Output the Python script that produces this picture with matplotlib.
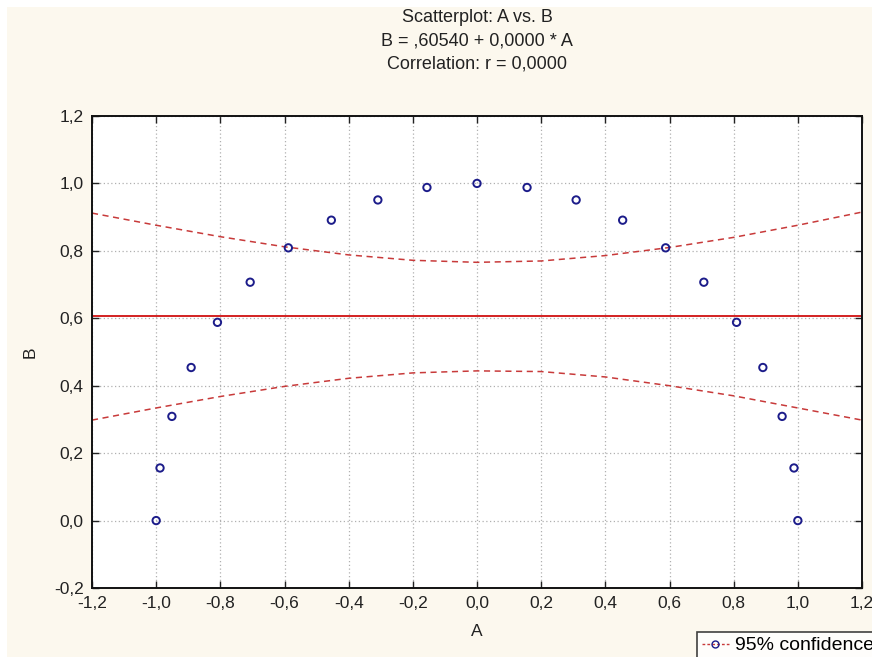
import matplotlib.pyplot as plt
from matplotlib.lines import Line2D
from matplotlib.patches import Rectangle

plt.rcParams['font.family'] = ['Liberation Sans', 'DejaVu Sans']

# data points
a_vals = [-1.0, -0.988, -0.951, -0.891, -0.809, -0.707, -0.588, -0.454, -0.309, -0.156, 0.0,
          0.156, 0.309, 0.454, 0.588, 0.707, 0.809, 0.891, 0.951, 0.988, 1.0]
b_vals = [0.0, 0.156, 0.309, 0.454, 0.588, 0.707, 0.809, 0.891, 0.951, 0.988, 1.0,
          0.988, 0.951, 0.891, 0.809, 0.707, 0.588, 0.454, 0.309, 0.156, 0.0]

# regression line and 95% band
intercept = 0.6054
slope = 0.0
band_x = [-1.2, -1.0, -0.8, -0.6, -0.4, -0.2, 0.0, 0.2, 0.4, 0.6, 0.8, 1.0, 1.2]
band_upper = [0.912, 0.876, 0.842, 0.812, 0.788, 0.772, 0.766, 0.770, 0.786, 0.810, 0.840, 0.876, 0.915]
band_lower = [0.298, 0.334, 0.368, 0.398, 0.422, 0.438, 0.444, 0.442, 0.426, 0.400, 0.370, 0.334, 0.298]

x_ticks = [-1.2, -1.0, -0.8, -0.6, -0.4, -0.2, 0.0, 0.2, 0.4, 0.6, 0.8, 1.0, 1.2]
x_labels = ['-1,2', '-1,0', '-0,8', '-0,6', '-0,4', '-0,2', '0,0', '0,2', '0,4', '0,6', '0,8', '1,0', '1,2']
y_ticks = [-0.2, 0.0, 0.2, 0.4, 0.6, 0.8, 1.0, 1.2]
y_labels = ['-0,2', '0,0', '0,2', '0,4', '0,6', '0,8', '1,0', '1,2']

W, H = 872, 657
fig = plt.figure(figsize=(W / 100, H / 100), dpi=100, facecolor='#fcf8ee')
# white strips at the top and left edge
fig.patches.append(Rectangle((0, 1 - 7 / H), 1, 7 / H, transform=fig.transFigure,
                             facecolor='white', edgecolor='none', zorder=0))
fig.patches.append(Rectangle((0, 0), 7 / W, 1, transform=fig.transFigure,
                             facecolor='white', edgecolor='none', zorder=0))

ax = fig.add_axes([92 / W, 69 / H, 770 / W, 472 / H])
ax.set_facecolor('white')

ax.plot(band_x, band_upper, color='#c83a3a', linestyle=(0, (4, 3)), linewidth=1.1, zorder=2)
ax.plot(band_x, band_lower, color='#c83a3a', linestyle=(0, (4, 3)), linewidth=1.1, zorder=2)
ax.plot([-1.2, 1.2], [intercept + slope * -1.2, intercept + slope * 1.2],
        color='#d01010', linewidth=1.3, zorder=2)
ax.scatter(a_vals, b_vals, s=28, facecolors='none', edgecolors='#1c1c8a', linewidths=1.4, zorder=3)

ax.set_xlim(-1.2, 1.2)
ax.set_ylim(-0.2, 1.2)
ax.set_xticks(x_ticks)
ax.set_xticklabels(x_labels)
ax.set_yticks(y_ticks)
ax.set_yticklabels(y_labels)
ax.tick_params(direction='in', length=5, width=1, labelsize=12.5, colors='#222222',
               top=True, right=True, pad=6)
ax.grid(True, color='#b0b0b0', linestyle=(0, (1, 2)), linewidth=0.9)
for s in ax.spines.values():
    s.set_linewidth(1.4)
    s.set_color('#111111')

ax.set_xlabel('A', fontsize=12.5, color='#222222', labelpad=9)
ax.set_ylabel('B', fontsize=12.5, color='#222222', labelpad=12)

cx = (92 + 385) / W
fig.text(cx, 1 - 18 / H, 'Scatterplot: A vs. B', ha='center', va='center', fontsize=13, color='#222222')
fig.text(cx, 1 - 41 / H, 'B = ,60540 + 0,0000 * A', ha='center', va='center', fontsize=13, color='#222222')
fig.text(cx, 1 - 64 / H, 'Correlation: r = 0,0000', ha='center', va='center', fontsize=13, color='#222222')

handle = Line2D([], [], color='#c83a3a', linestyle=(0, (2, 1.5)), linewidth=1,
                marker='o', markerfacecolor='none', markeredgecolor='#1c1c8a', markersize=5)
leg = fig.legend([handle], ['95% confidence'], loc='upper left',
                 bbox_to_anchor=(697 / W, 1 - 632 / H), fontsize=14, frameon=True,
                 fancybox=False, edgecolor='#111111', borderpad=0.25, handlelength=1.4,
                 handletextpad=0.3, borderaxespad=0)
leg.get_frame().set_linewidth(1.2)

fig.savefig('out.png', dpi=100, facecolor=fig.get_facecolor())
